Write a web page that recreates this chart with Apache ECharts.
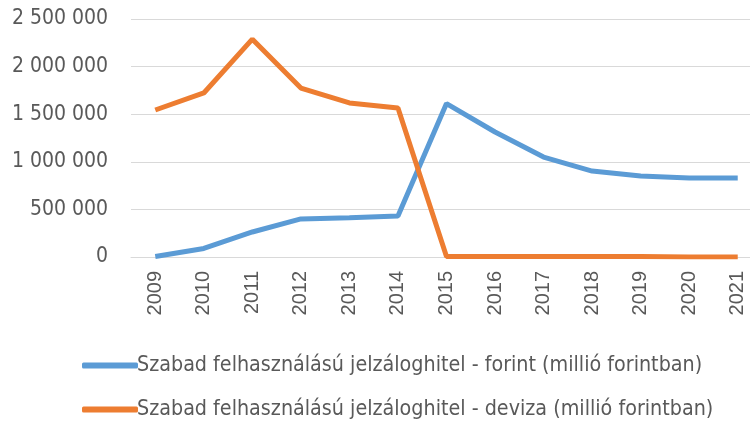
<!DOCTYPE html>
<html>
<head>
<meta charset="utf-8">
<script src="https://cdn.jsdelivr.net/npm/echarts@6/dist/echarts.min.js"></script>
<style>
html,body{margin:0;padding:0;background:#fff;}
#chart{width:750px;height:421px;}
</style>
</head>
<body>
<div id="chart"></div>
<script>
var years = ['2009','2010','2011','2012','2013','2014','2015','2016','2017','2018','2019','2020','2021'];
var forint = [5000, 90000, 263000, 400000, 412000, 430000, 1612000, 1313000, 1050000, 903000, 850000, 830000, 830000];
var deviza = [1544000, 1723000, 2288000, 1775000, 1618000, 1565000, 5000, 5000, 5000, 5000, 5000, 1000, 1000];
var names = ['Szabad felhasználású jelzáloghitel - forint (millió forintban)',
             'Szabad felhasználású jelzáloghitel - deviza (millió forintban)'];

var font = '"Liberation Sans Narrow", "DejaVu Sans Condensed", Arial, sans-serif';
var myChart = echarts.init(document.getElementById('chart'));

// 2500000 -> "2 500 000"
function fmt(v){
	return String(v).replace(/\B(?=(\d{3})+(?!\d))/g, ' ');
}

function legendRow(name, top){
	return {
		orient: 'vertical',
		left: 77,
		top: top,
		itemWidth: 56,
		itemHeight: 6,
		icon: 'roundRect',
		textStyle: {color: '#595959', fontSize: 21.3, fontFamily: font, padding: [0,0,0,-6]},
		data: [name]
	};
}

myChart.setOption({
	animation: false,
	textStyle: {fontFamily: font},
	// plot runs past the right edge, like the cropped original
	grid: {left: 131, width: 631, top: 19, bottom: 164, outerBoundsMode: 'none'},
	xAxis: {
		type: 'category',
		data: years,
		boundaryGap: true,
		axisLine: {show: true, lineStyle: {color: '#d9d9d9'}},
		axisTick: {show: false},
		axisLabel: {rotate: 90, color: '#595959', fontSize: 20, fontFamily: '"Liberation Sans", Arial, sans-serif', margin: 14}
	},
	yAxis: {
		type: 'value',
		min: 0,
		max: 2500000,
		interval: 500000,
		axisLine: {show: false},
		axisTick: {show: false},
		splitLine: {lineStyle: {color: '#d9d9d9', width: 1}},
		axisLabel: {color: '#595959', fontSize: 21, fontFamily: font, margin: 23, formatter: fmt}
	},
	legend: [legendRow(names[0], 350), legendRow(names[1], 394)],
	series: [{
		name: names[0],
		type: 'line',
		data: forint,
		color: '#5b9bd5',
		lineStyle: {width: 5, color: '#5b9bd5'},
		showSymbol: false,
		symbol: 'none'
	}, {
		name: names[1],
		type: 'line',
		data: deviza,
		color: '#ed7d31',
		lineStyle: {width: 5, color: '#ed7d31'},
		showSymbol: false,
		symbol: 'none'
	}]
});
</script>
</body>
</html>
